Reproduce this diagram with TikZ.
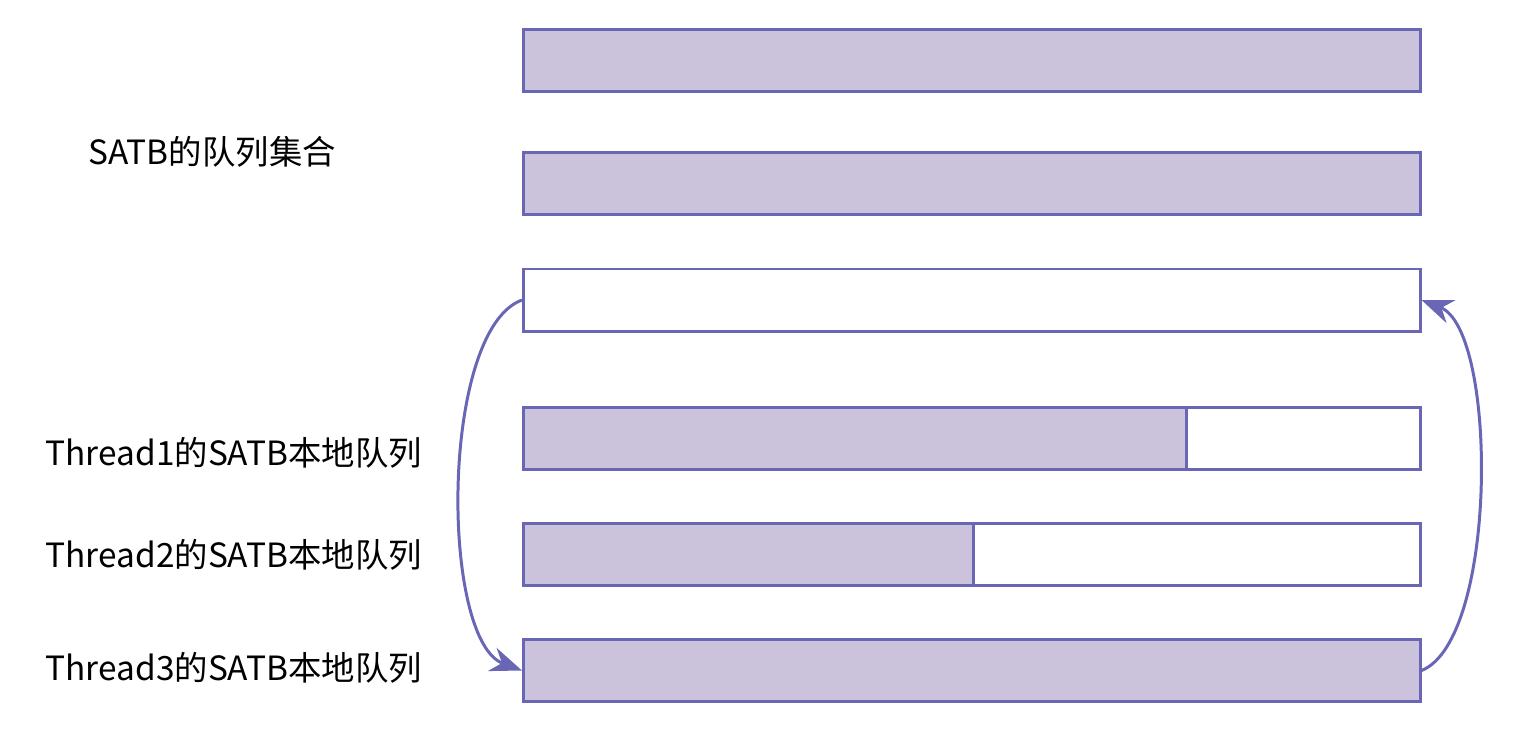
\documentclass[tikz,border=0pt]{standalone}
\usepackage{fontspec}
\setmainfont{Noto Sans CJK SC}
\usepackage{xcolor}
\usepackage{tikz}
\usetikzlibrary{positioning, arrows.meta}

\definecolor{qline}{HTML}{6A66B6}
\definecolor{qfill}{HTML}{CBC3DC}

\begin{document}
\begin{tikzpicture}[
    x=0.01cm, y=-0.01cm,
    queue/.style={rectangle, draw=qline, line width=0.85pt, fill=white, minimum height=0.62cm, minimum width=8.96cm, inner sep=0pt, anchor=west},
    used/.style={queue, fill=qfill},
    qlabel/.style={anchor=west, font=\fontsize{9.5pt}{11pt}\selectfont, inner sep=0pt},
    move/.style={-{Stealth[length=9pt, width=7pt]}, draw=qline, line width=0.85pt},
]
\useasboundingbox (0,0) rectangle (1530,732);

% global SATB queue set
\node[used] (set1) at (522, 60.5) {};
\node[used] (set2) at (522, 183.5) {};
\node[queue] (set3) at (522, 300) {};
\node[qlabel] (setlabel) at (88, 152) {SATB的队列集合};

% thread local queues
\node[queue] (local1) at (522, 438.5) {};
\node[used, minimum width=6.63cm] (fill1) at (522, 438.5) {};
\node[queue] (local2) at (522, 554.5) {};
\node[used, minimum width=4.50cm] (fill2) at (522, 554.5) {};
\node[used] (local3) at (522, 670.5) {};

\node[qlabel] (label1) at (45, 453) {Thread1的SATB本地队列};
\node[qlabel] (label2) at (45, 555) {Thread2的SATB本地队列};
\node[qlabel] (label3) at (45, 668) {Thread3的SATB本地队列};

% swap
\draw[move] (set3.west) .. controls (440, 330) and (440, 640) .. (local3.west);
\draw[move] (local3.east) .. controls (1498, 640) and (1498, 330) .. (set3.east);

\end{tikzpicture}
\end{document}
